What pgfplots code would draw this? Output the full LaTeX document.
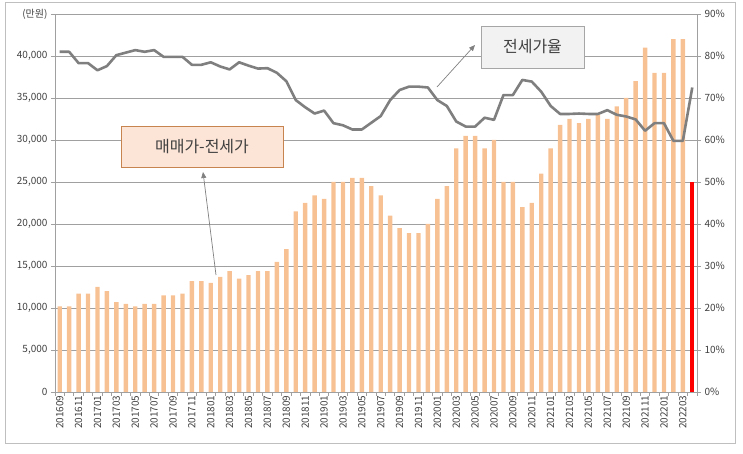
\documentclass[border=0pt]{standalone}
\usepackage{pgfplots}
\pgfplotsset{compat=1.18}
\usepackage{pgfplotstable}
\usepackage{fontspec}
\setmainfont{Noto Sans CJK KR}
\usetikzlibrary{arrows.meta}

\definecolor{barc}{HTML}{F8C194}
\definecolor{linec}{HTML}{7F7F7F}
\definecolor{gridc}{HTML}{A0A0A0}
\definecolor{box1fill}{HTML}{FCE4D6}
\definecolor{box1draw}{HTML}{C8844E}
\definecolor{box2fill}{HTML}{F2F2F2}
\definecolor{box2draw}{HTML}{A6A6A6}
\definecolor{labc}{HTML}{404040}

% x: month index from 201609, diff: 매매가-전세가 (만원), ratio: 전세가율 (%)
\pgfplotstableread{
x diff ratio
0 10200 81.0
1 10200 81.0
2 11700 78.3
3 11700 78.3
4 12500 76.6
5 12000 77.6
6 10700 80.2
7 10500 80.8
8 10200 81.4
9 10500 81.0
10 10500 81.4
11 11500 79.8
12 11500 79.8
13 11700 79.8
14 13200 77.9
15 13200 77.9
16 13000 78.5
17 13700 77.5
18 14400 76.8
19 13500 78.5
20 13900 77.7
21 14400 77.0
22 14400 77.1
23 15500 76.0
24 17000 74.0
25 21500 69.5
26 22500 67.8
27 23400 66.3
28 23000 67.0
29 25000 64.0
30 25000 63.5
31 25500 62.5
32 25500 62.5
33 24500 64.1
34 23400 65.7
35 21000 69.5
36 19500 71.9
37 18900 72.7
38 18900 72.7
39 20000 72.5
40 23000 69.5
41 24500 68.1
42 29000 64.4
43 30500 63.2
44 30500 63.2
45 29000 65.3
46 30000 64.8
47 25000 70.7
48 25000 70.7
49 22000 74.3
50 22500 73.9
51 26000 71.5
52 29000 68.1
53 31800 66.2
54 32500 66.2
55 32000 66.3
56 32500 66.2
57 33000 66.2
58 32500 67.1
59 34000 66.0
60 35000 65.6
61 37000 64.9
62 41000 62.2
63 38000 64.0
64 38000 64.0
65 42000 59.8
66 42000 59.8
67 25000 72.5
}\data

\begin{document}
\begin{tikzpicture}
\useasboundingbox (0,0) rectangle (743pt,454pt);
\draw[gray!50] (5pt,11pt) rectangle (735pt,452pt);

\pgfplotsset{
  common/.style={
    at={(55pt,62pt)}, anchor=south west,
    scale only axis, width=642pt, height=378pt,
    xmin=-0.5, xmax=67.5,
    scaled ticks=false,
    tick align=outside, major tick length=4pt,
    axis line style={gridc, line width=0.8pt},
    tick style={gridc, line width=0.8pt},
    tick label style={font=\fontsize{10}{12}\selectfont, text=labc},
  }
}

\begin{axis}[
  common,
  ymin=0, ymax=45000,
  axis x line*=bottom, axis y line*=left,
  xtick={-0.5,0.5,...,67.5}, xticklabels={},
  extra x ticks={0,2,...,66},
  extra x tick labels={201609,201611,201701,201703,201705,201707,201709,201711,201801,201803,201805,201807,201809,201811,201901,201903,201905,201907,201909,201911,202001,202003,202005,202007,202009,202011,202101,202103,202105,202107,202109,202111,202201,202203},
  extra x tick style={major tick length=0pt},
  xticklabel style={rotate=90, anchor=east},
  ytick={0,5000,...,45000},
  yticklabels={0,{5,000},{10,000},{15,000},{20,000},{25,000},{30,000},{35,000},{40,000},(만원)},
  ymajorgrids, grid style={gridc, line width=0.8pt},
]
\addplot[ybar, bar width=4.4pt, fill=barc, draw=none, restrict x to domain=0:66] table[x=x, y=diff] {\data};
\addplot[ybar, bar width=4.4pt, fill=red, draw=none] coordinates {(67,25000)};
\end{axis}

\begin{axis}[
  common,
  ymin=0, ymax=90,
  axis x line=none, axis y line*=right,
  ytick={0,10,...,90},
  yticklabels={0\%,10\%,20\%,30\%,40\%,50\%,60\%,70\%,80\%,90\%},
]
\addplot[linec, line width=2.6pt, line join=round, no markers] table[x=x, y=ratio] {\data};
\end{axis}

\node[draw=box1draw, fill=box1fill, line width=0.9pt, minimum width=162pt, minimum height=41pt,
      font=\fontsize{16}{18}\selectfont, text=labc] at (202pt,307.5pt) {매매가-전세가};
\draw[-{Triangle[length=6pt,width=5pt]}, gray, line width=0.7pt] (216pt,179pt) -- (203pt,282pt);

\node[draw=box2draw, fill=box2fill, line width=0.9pt, minimum width=103pt, minimum height=42pt,
      font=\fontsize{16}{18}\selectfont, text=labc] at (532.5pt,407pt) {전세가율};
\draw[-{Triangle[length=6pt,width=5pt]}, gray, line width=0.7pt] (437pt,367pt) -- (475pt,409pt);
\end{tikzpicture}
\end{document}
